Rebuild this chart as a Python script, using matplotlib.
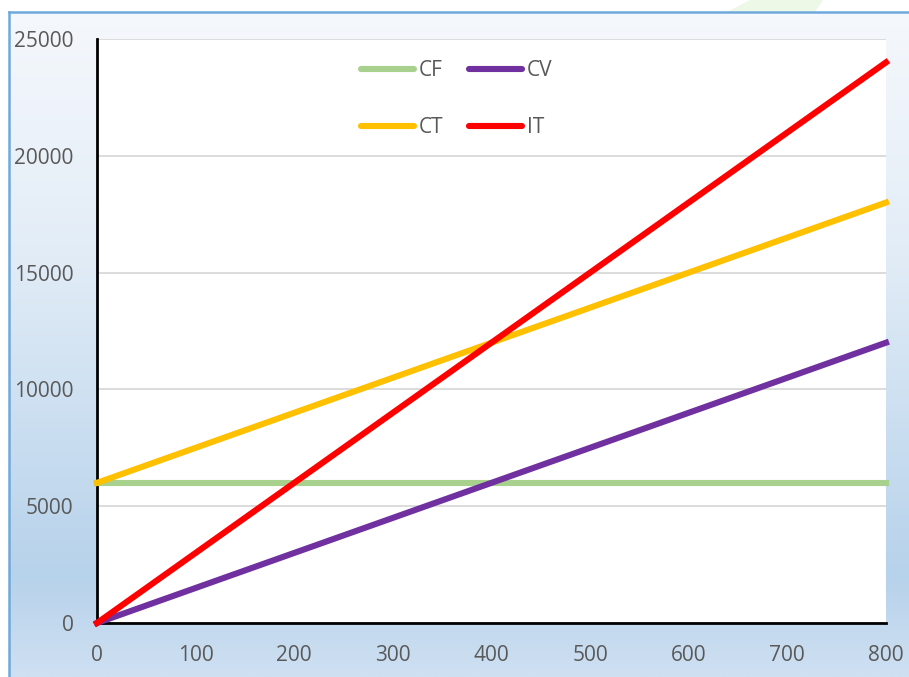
import numpy as np
import matplotlib
matplotlib.use("Agg")
import matplotlib.pyplot as plt
from matplotlib.colors import LinearSegmentedColormap
from matplotlib.patches import Polygon

plt.rcParams['font.family'] = ['Open Sans', 'DejaVu Sans']

# Break-even data: units produced vs. costs / revenue
units = [0, 100, 200, 300, 400, 500, 600, 700, 800]
cf = [6000, 6000, 6000, 6000, 6000, 6000, 6000, 6000, 6000]
cv = [0, 1500, 3000, 4500, 6000, 7500, 9000, 10500, 12000]
ct = [6000, 7500, 9000, 10500, 12000, 13500, 15000, 16500, 18000]
it = [0, 3000, 6000, 9000, 12000, 15000, 18000, 21000, 24000]

x_ticks = [0, 100, 200, 300, 400, 500, 600, 700, 800]
y_ticks = [0, 5000, 10000, 15000, 20000, 25000]

W, H = 909, 677
fig = plt.figure(figsize=(W / 100, H / 100), dpi=100)
fig.patch.set_facecolor('white')

# decorative faint green shape at the very top
fig.patches.append(Polygon([[727 / W, 1 - 12 / H], [815 / W, 1 - 12 / H],
                            [823 / W, 1.0], [750 / W, 1.0]],
                           closed=True, transform=fig.transFigure,
                           facecolor='#eef8e6', edgecolor='none', zorder=0))

# gradient panel behind the chart
bg = fig.add_axes([9 / W, 0, 1 - 9 / W, (H - 12) / H], zorder=0)
cmap = LinearSegmentedColormap.from_list(
    'panel', [(0.0, '#f5f8fc'), (0.35, '#e3edf7'), (0.85, '#b7d2eb'), (1.0, '#cfe0f2')])
grad = np.linspace(0, 1, 256).reshape(-1, 1)
bg.imshow(grad, aspect='auto', cmap=cmap, extent=[0, 1, 0, 1], origin='upper')
bg.set_xlim(0, 1)
bg.set_ylim(0, 1)
bg.axis('off')
# panel border (top and left)
fig.add_artist(plt.Line2D([9 / W, 1], [1 - 12 / H, 1 - 12 / H], color='#6fa8dc', lw=1.8,
                          transform=fig.transFigure))
fig.add_artist(plt.Line2D([9 / W, 9 / W], [0, 1 - 12 / H], color='#6fa8dc', lw=1.8,
                          transform=fig.transFigure))

ax = fig.add_axes([97 / W, (H - 623) / H, (886 - 97) / W, (623 - 39) / H], zorder=1)
ax.set_facecolor('white')

lw = 4.4
l_cf, = ax.plot(units, cf, color='#a9d18e', lw=lw, label='CF', clip_on=False, zorder=3)
l_cv, = ax.plot(units, cv, color='#7030a0', lw=lw, label='CV', clip_on=False, zorder=4)
l_ct, = ax.plot(units, ct, color='#ffc000', lw=lw, label='CT', clip_on=False, zorder=5)
l_it, = ax.plot(units, it, color='#ff0000', lw=lw, label='IT', clip_on=False, zorder=6)

ax.set_xlim(0, 800)
ax.set_ylim(0, 25000)
ax.set_xticks(x_ticks)
ax.set_yticks(y_ticks)
ax.set_xticklabels([str(v) for v in x_ticks])
ax.set_yticklabels([str(v) for v in y_ticks])
ax.tick_params(axis='both', length=0, labelsize=15, colors='#595959')
ax.tick_params(axis='y', pad=17)
ax.tick_params(axis='x', pad=16)

ax.grid(axis='y', color='#d9d9d9', lw=1.3)
ax.set_axisbelow(True)
for side in ['top', 'right']:
    ax.spines[side].set_visible(False)
for side in ['left', 'bottom']:
    ax.spines[side].set_color('black')
    ax.spines[side].set_linewidth(2)

leg = ax.legend(handles=[l_cf, l_ct, l_cv, l_it], ncol=2, loc='center',
                bbox_to_anchor=(0.456, 0.897), frameon=False, fontsize=15,
                handlelength=2.55, handletextpad=0.25, labelspacing=1.75,
                columnspacing=1.2, labelcolor='#595959')
for h in leg.get_lines():
    h.set_solid_capstyle('round')
    h.set_linewidth(lw)

fig.savefig('out.png', dpi=100)
